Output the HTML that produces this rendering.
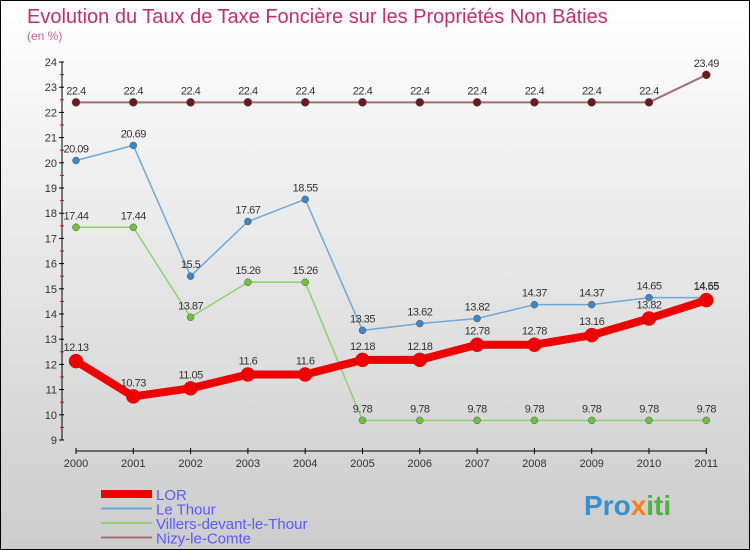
<!DOCTYPE html>
<html><head><meta charset="utf-8"><style>
html,body{margin:0;padding:0}
body{width:750px;height:550px;overflow:hidden;font-family:"Liberation Sans",sans-serif}
#c{position:absolute;left:0;top:0;width:748px;height:548px;border:1px solid #000;background:linear-gradient(#fff,#ccc)}
</style></head><body>
<div id="c">
<svg id="s" width="748" height="548" style="position:absolute;left:0;top:0">
<text x="26" y="22" font-size="20" fill="#c0306a">Evolution du Taux de Taxe Foncière sur les Propriétés Non Bâties</text>
<text x="26" y="39" font-size="12" fill="#d06090">(en %)</text>
<g id="axes"></g><g id="series"></g><g id="legend"></g>
<text x="583" y="514" font-size="28" font-weight="bold" fill="#3a8fd0">Pro<tspan fill="#f08020">x</tspan><tspan fill="#50b040">iti</tspan></text>
</svg></div>
<script>
const years=["2000","2001","2002","2003","2004","2005","2006","2007","2008","2009","2010","2011"];
const lor=[12.13,10.73,11.05,11.6,11.6,12.18,12.18,12.78,12.78,13.16,13.82,14.55];
const thour=[20.09,20.69,15.5,17.67,18.55,13.35,13.62,13.82,14.37,14.37,14.65,14.65];
const villers=[17.44,17.44,13.87,15.26,15.26,9.78,9.78,9.78,9.78,9.78,9.78,9.78];
const nizy=[22.4,22.4,22.4,22.4,22.4,22.4,22.4,22.4,22.4,22.4,22.4,23.49];
const yTicks=[9,10,11,12,13,14,15,16,17,18,19,20,21,22,23,24];
const NS="http://www.w3.org/2000/svg";
const X=i=>75+i*57.3, Y=v=>439-(v-9)*25.2;
function mk(p,t,a){const e=document.createElementNS(NS,t);for(const k in a)e.setAttribute(k,a[k]);p.appendChild(e);return e;}
const ax=document.getElementById('axes');
let l=mk(ax,'line',{x1:61,y1:Y(24),x2:61,y2:Y(9),stroke:'#000'});

yTicks.forEach(v=>{mk(ax,'line',{x1:58,x2:63,y1:Y(v),y2:Y(v),stroke:'#000'});
 if(v<24)mk(ax,'line',{x1:59,x2:63,y1:Y(v+0.5),y2:Y(v+0.5),stroke:'#e00'});
 const t=mk(ax,'text',{x:56,y:Y(v)+4,'font-size':11,fill:'#333','text-anchor':'end'});t.textContent=v;
 });
l=mk(ax,'line',{x1:X(0),y1:450,x2:X(11),y2:450,stroke:'#000'});

years.forEach((y,i)=>{mk(ax,'line',{x1:X(i),x2:X(i),y1:447,y2:453,stroke:'#000'});
 const t=mk(ax,'text',{x:X(i),y:466,'font-size':11,fill:'#333','text-anchor':'middle'});t.textContent=y;
 });
const sg=document.getElementById('series');
const S=[[nizy,'#a07070','#6a1a1a',2,4,'nizy-le-comte'],[villers,'#90d070','#70c040',1.5,3.5,'villers-devant-le-thour'],[thour,'#70a8d8','#3a88c8',1.5,3.5,'le-thour'],[lor,'#ee0000','#ee0000',8,7,'lor']];
S.forEach(([d,lc,pc,w,r,n])=>{const g=mk(sg,'g',{});
 const p=mk(g,'polyline',{points:d.map((v,i)=>X(i)+','+Y(v)).join(' '),fill:'none',stroke:lc,'stroke-width':w,'stroke-linejoin':'round'});
 
 d.forEach((v,i)=>{const c=mk(g,'circle',{cx:X(i),cy:Y(v),r:r,fill:pc,stroke:n=='lor'?'#c00':'#555','stroke-width':0.5});
  
  const t=mk(g,'text',{x:X(i),y:Y(v)-(n=='lor'?10:8),'font-size':11,fill:'#333','text-anchor':'middle','letter-spacing':'-0.5'});t.textContent=v;
  });});
const lg=document.getElementById('legend');
[['LOR','#ee0000',8],['Le Thour','#70a8d8',2],['Villers-devant-le-Thour','#90d070',2],['Nizy-le-Comte','#a07070',2]].forEach(([n,c,w],i)=>{
 const y=493+i*14.5;const g=mk(lg,'g',{});
 mk(g,'line',{x1:100,x2:151,y1:y,y2:y,stroke:c,'stroke-width':w});
 const t=mk(g,'text',{x:155,y:y+6,'font-size':15,fill:'#5a5aff'});t.textContent=n;});
</script></body></html>
